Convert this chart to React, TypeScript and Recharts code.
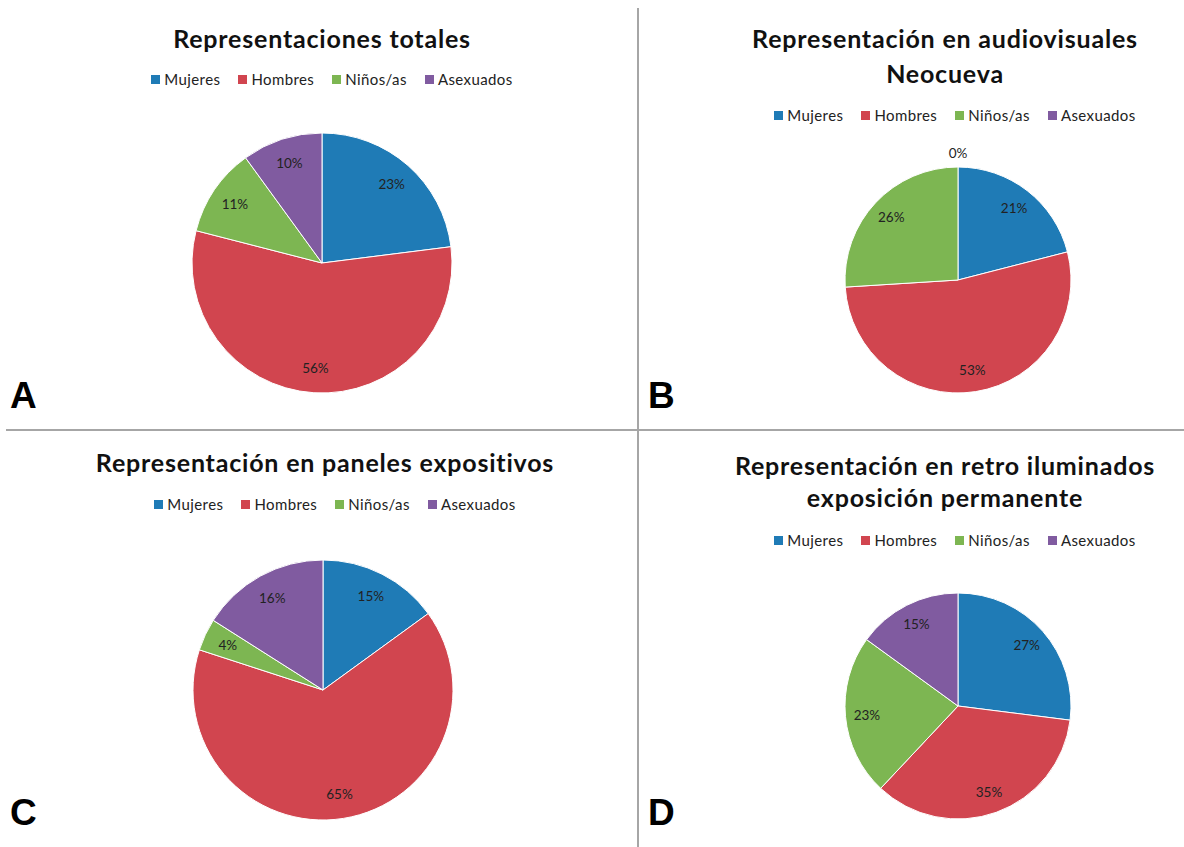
import React from "react"
import { PieChart, Pie, Cell, Legend } from "recharts"

const categories = ["Mujeres", "Hombres", "Niños/as", "Asexuados"]
const COLORS = ["#1F7BB6", "#D1454F", "#7DB652", "#805BA0"]

const totales = [23, 56, 11, 10]
const audiovisuales = [21, 53, 26, 0]
const paneles = [15, 65, 4, 16]
const retroIluminados = [27, 35, 23, 15]

const toRows = (values: number[]) => categories.map((name, i) => ({ name, value: values[i] }))

const RAD = Math.PI / 180
const FONT = "Lato, 'Open Sans', sans-serif"

const renderLabel = (props: any) => {
  const { cx, cy, midAngle, outerRadius, value } = props
  const r = value === 0 ? outerRadius + 14 : outerRadius * 0.81
  const x = cx + r * Math.cos(-midAngle * RAD)
  const y = cy + r * Math.sin(-midAngle * RAD)
  return (
    <text x={x} y={y} textAnchor="middle" dominantBaseline="central" fill="#222" fontSize={13.5} fontFamily={FONT}>
      {`${value}%`}
    </text>
  )
}

// keep the legend in the sheet's order, not alphabetical
const renderLegend = (props: any) => {
  const items = [...props.payload].sort((a: any, b: any) => categories.indexOf(a.value) - categories.indexOf(b.value))
  return (
    <div style={{ display: "flex", justifyContent: "center", gap: 18, fontFamily: FONT, fontSize: 15, letterSpacing: 0.4, color: "#222" }}>
      {items.map((entry: any) => (
        <span key={entry.value} style={{ display: "flex", alignItems: "center" }}>
          <span style={{ width: 9, height: 9, background: entry.color, marginRight: 4, display: "inline-block" }} />
          {entry.value}
        </span>
      ))}
    </div>
  )
}

type PanelProps = {
  left: number
  top: number
  width: number
  height: number
  title: string[]
  titleX: number
  titleY: number
  lineH: number
  legendY: number
  values: number[]
  cx: number
  cy: number
  r: number
  letter: string
}

function Panel(p: PanelProps) {
  return (
    <div style={{ position: "absolute", left: p.left, top: p.top, width: p.width, height: p.height }}>
      <PieChart width={p.width} height={p.height} margin={{ top: 0, right: 0, bottom: 0, left: 0 }}>
        <Legend
          layout="horizontal"
          verticalAlign="middle"
          content={renderLegend}
          wrapperStyle={{ top: p.legendY - 10, left: p.titleX - 300, width: 620 }}
        />
        <Pie
          data={toRows(p.values)}
          dataKey="value"
          nameKey="name"
          cx={p.cx}
          cy={p.cy}
          outerRadius={p.r}
          startAngle={90}
          endAngle={-270}
          stroke="#fff"
          strokeWidth={1}
          label={renderLabel}
          labelLine={false}
          isAnimationActive={false}
        >
          {p.values.map((_, i) => (
            <Cell key={categories[i]} fill={COLORS[i]} />
          ))}
        </Pie>
      </PieChart>
      {p.title.map((line, i) => (
        <div
          key={line}
          style={{
            position: "absolute",
            left: p.titleX - 300,
            width: 600,
            top: p.titleY + i * p.lineH - 16,
            height: 32,
            lineHeight: "32px",
            textAlign: "center",
            fontFamily: FONT,
            fontWeight: 700,
            fontSize: 25,
            letterSpacing: 0.8,
            color: "#111",
          }}
        >
          {line}
        </div>
      ))}
      <div
        style={{
          position: "absolute",
          left: 10,
          top: p.height - 55,
          fontFamily: "'Liberation Sans', Arial, sans-serif",
          fontWeight: 700,
          fontSize: 37,
          color: "#000",
        }}
      >
        {p.letter}
      </div>
    </div>
  )
}

export default function App() {
  return (
    <div style={{ position: "absolute", left: 0, top: 0, width: 1184, height: 847, background: "#fff", overflow: "hidden" }}>
      <Panel left={0} top={0} width={638} height={430} title={["Representaciones totales"]} titleX={322} titleY={38} lineH={35}
        legendY={80} values={totales} cx={322} cy={263} r={130} letter="A" />
      <Panel left={638} top={0} width={546} height={430} title={["Representación en audiovisuales", "Neocueva"]} titleX={307} titleY={38} lineH={35}
        legendY={116} values={audiovisuales} cx={320} cy={280} r={113} letter="B" />
      <Panel left={0} top={430} width={638} height={417} title={["Representación en paneles expositivos"]} titleX={325} titleY={32} lineH={32}
        legendY={75} values={paneles} cx={323} cy={260} r={130} letter="C" />
      <Panel left={638} top={430} width={546} height={417} title={["Representación en retro iluminados", "exposición permanente"]} titleX={307} titleY={35} lineH={32}
        legendY={111} values={retroIluminados} cx={320} cy={276} r={113} letter="D" />
      <div style={{ position: "absolute", left: 6, top: 429, width: 1178, height: 2, background: "#a6a6a6" }} />
      <div style={{ position: "absolute", left: 637, top: 8, width: 2, height: 839, background: "#a6a6a6" }} />
    </div>
  )
}
